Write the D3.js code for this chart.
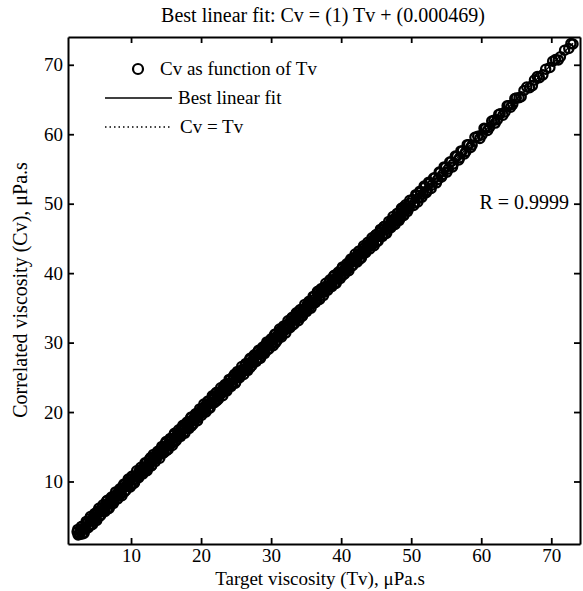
<!DOCTYPE html>
<html><head><meta charset="utf-8">
<script src="https://cdn.jsdelivr.net/npm/d3@7"></script>
<style>body{margin:0;background:#fff}svg text{font-family:"Liberation Serif","Times New Roman",serif;fill:#000}</style>
</head><body><svg id="c" width="583" height="591"></svg>
<script>
// Cv as function of Tv — dense part, strand A
const tvA = [2.3,2.6,2.9,3.2,3.5,3.8,4.1,4.4,4.7,5.0,5.3,5.6,5.9,6.2,6.5,6.8,7.1,7.4,7.7,8.0,8.3,8.6,8.9,9.2,9.5,9.8,10.1,10.4,10.7,11.0,11.3,11.6,11.9,12.2,12.5,12.8,13.1,13.4,13.7,14.0,14.3,14.6,14.9,15.2,15.5,15.8,16.1,16.4,16.7,17.0,17.3,17.6,17.9,18.2,18.5,18.8,19.1,19.4,19.7,20.0,20.3,20.6,20.9,21.2,21.5,21.8,22.1,22.4,22.7,23.0,23.3,23.6,23.9,24.2,24.5,24.8,25.1,25.4,25.7,26.0,26.3,26.6,26.9,27.2,27.5,27.8,28.1,28.4,28.7,29.0,29.3,29.6,29.9,30.2,30.5,30.8,31.1,31.4,31.7,32.0,32.3,32.6,32.9,33.2,33.5,33.8,34.1,34.4,34.7,35.0,35.3,35.6,35.9,36.2,36.5,36.8,37.1,37.4,37.7,38.0,38.3,38.6,38.9,39.2,39.5,39.8,40.1,40.4,40.7,41.0,41.3,41.6,41.9,42.2,42.5,42.8,43.1,43.4,43.7,44.0,44.3,44.6,44.9,45.2,45.5,45.8,46.1,46.4,46.7,47.0,47.3,47.6,47.9,48.2,48.5,48.8,49.1,49.4,49.7];
const cvA = [2.75,2.4,3.5,3.3,3.15,4.1,4.65,4.3,4.9,4.6,5.8,5.6,6.25,5.95,7.15,6.95,6.8,7.8,7.65,8.25,8.6,8.25,9.45,9.25,9.3,10.25,10.7,10.25,10.8,10.7,11.7,11.8,11.8,12.7,12.1,13.45,13.1,13.7,13.45,14.15,14.75,14.4,15.5,15.3,15.15,16.1,16.65,16.3,16.9,16.6,17.8,17.6,18.25,17.95,19.15,18.95,18.8,19.8,19.65,20.25,20.6,20.25,21.45,21.25,21.3,22.25,22.7,22.25,22.8,22.7,23.7,23.8,23.8,24.7,24.1,25.45,25.1,25.7,25.45,26.15,26.75,26.4,27.5,27.3,27.15,28.1,28.65,28.3,28.9,28.6,29.8,29.6,30.25,29.95,31.15,30.95,30.8,31.8,31.65,32.25,32.6,32.25,33.45,33.25,33.3,34.25,34.7,34.25,34.8,34.7,35.7,35.8,35.8,36.7,36.1,37.45,37.1,37.7,37.45,38.15,38.75,38.4,39.5,39.3,39.15,40.1,40.65,40.3,40.9,40.6,41.8,41.6,42.25,41.95,43.15,42.95,42.8,43.8,43.65,44.25,44.6,44.25,45.45,45.25,45.3,46.25,46.7,46.25,46.8,46.7,47.7,47.8,47.8,48.7,48.1,49.45,49.1,49.7,49.45];
// dense part, strand B
const tvB = [2.45,2.75,3.05,3.35,3.65,3.95,4.25,4.55,4.85,5.15,5.45,5.75,6.05,6.35,6.65,6.95,7.25,7.55,7.85,8.15,8.45,8.75,9.05,9.35,9.65,9.95,10.25,10.55,10.85,11.15,11.45,11.75,12.05,12.35,12.65,12.95,13.25,13.55,13.85,14.15,14.45,14.75,15.05,15.35,15.65,15.95,16.25,16.55,16.85,17.15,17.45,17.75,18.05,18.35,18.65,18.95,19.25,19.55,19.85,20.15,20.45,20.75,21.05,21.35,21.65,21.95,22.25,22.55,22.85,23.15,23.45,23.75,24.05,24.35,24.65,24.95,25.25,25.55,25.85,26.15,26.45,26.75,27.05,27.35,27.65,27.95,28.25,28.55,28.85,29.15,29.45,29.75,30.05,30.35,30.65,30.95,31.25,31.55,31.85,32.15,32.45,32.75,33.05,33.35,33.65,33.95,34.25,34.55,34.85,35.15,35.45,35.75,36.05,36.35,36.65,36.95,37.25,37.55,37.85,38.15,38.45,38.75,39.05,39.35,39.65,39.95,40.25,40.55,40.85,41.15,41.45,41.75,42.05,42.35,42.65,42.95,43.25,43.55,43.85,44.15,44.45,44.75,45.05,45.35,45.65,45.95,46.25,46.55,46.85,47.15,47.45,47.75,48.05,48.35,48.65,48.95,49.25,49.55,49.85];
const cvB = [2.3,2.95,2.45,3.25,4.0,3.65,3.7,4.65,4.65,5.55,4.95,5.75,5.7,6.6,6.0,6.8,7.55,7.15,7.9,7.9,8.15,9.1,8.5,9.3,9.85,9.5,9.65,10.7,10.75,11.45,11.05,11.55,12.15,11.85,13.05,12.3,13.25,13.25,14.1,14.0,14.0,14.95,14.45,15.25,16.0,15.65,15.7,16.65,16.65,17.55,16.95,17.75,17.7,18.6,18.0,18.8,19.55,19.15,19.9,19.9,20.15,21.1,20.5,21.3,21.85,21.5,21.65,22.7,22.75,23.45,23.05,23.55,24.15,23.85,25.05,24.3,25.25,25.25,26.1,26.0,26.0,26.95,26.45,27.25,28.0,27.65,27.7,28.65,28.65,29.55,28.95,29.75,29.7,30.6,30.0,30.8,31.55,31.15,31.9,31.9,32.15,33.1,32.5,33.3,33.85,33.5,33.65,34.7,34.75,35.45,35.05,35.55,36.15,35.85,37.05,36.3,37.25,37.25,38.1,38.0,38.0,38.95,38.45,39.25,40.0,39.65,39.7,40.65,40.65,41.55,40.95,41.75,41.7,42.6,42.0,42.8,43.55,43.15,43.9,43.9,44.15,45.1,44.5,45.3,45.85,45.5,45.65,46.7,46.75,47.45,47.05,47.55,48.15,47.85,49.05,48.3,49.25,49.25,50.1];
// dense part, outer strand D (widest scatter)
const tvD = [2.4,2.7,3.0,3.3,3.6,3.9,4.2,4.5,4.8,5.1,5.4,5.7,6.0,6.3,6.6,6.9,7.2,7.5,7.8,8.1,8.4,8.7,9.0,9.3,9.6,9.9,10.2,10.5,10.8,11.1,11.4,11.7,12.0,12.3,12.6,12.9,13.2,13.5,13.8,14.1,14.4,14.7,15.0,15.3,15.6,15.9,16.2,16.5,16.8,17.1,17.4,17.7,18.0,18.3,18.6,18.9,19.2,19.5,19.8,20.1,20.4,20.7,21.0,21.3,21.6,21.9,22.2,22.5,22.8,23.1,23.4,23.7,24.0,24.3,24.6,24.9,25.2,25.5,25.8,26.1,26.4,26.7,27.0,27.3,27.6,27.9,28.2,28.5,28.8,29.1,29.4,29.7,30.0,30.3,30.6,30.9,31.2,31.5,31.8,32.1,32.4,32.7,33.0,33.3,33.6,33.9,34.2,34.5,34.8,35.1,35.4,35.7,36.0,36.3,36.6,36.9,37.2,37.5,37.8,38.1,38.4,38.7,39.0,39.3,39.6,39.9,40.2,40.5,40.8,41.1,41.4,41.7,42.0,42.3,42.6,42.9,43.2,43.5,43.8,44.1,44.4,44.7,45.0,45.3,45.6,45.9,46.2,46.5,46.8,47.1,47.4,47.7,48.0,48.3,48.6,48.9,49.2,49.5,49.8];
const cvD = [3.1,2.4,3.55,2.55,4.25,3.35,4.95,3.8,5.4,4.4,6.15,5.15,6.65,5.7,7.3,6.15,7.75,6.85,8.5,7.5,8.95,7.95,9.65,8.75,10.35,9.2,10.8,9.8,11.55,10.55,12.05,11.1,12.7,11.55,13.15,12.25,13.9,12.9,14.35,13.35,15.05,14.15,15.75,14.6,16.2,15.2,16.95,15.95,17.45,16.5,18.1,16.95,18.55,17.65,19.3,18.3,19.75,18.75,20.45,19.55,21.15,20.0,21.6,20.6,22.35,21.35,22.85,21.9,23.5,22.35,23.95,23.05,24.7,23.7,25.15,24.15,25.85,24.95,26.55,25.4,27.0,26.0,27.75,26.75,28.25,27.3,28.9,27.75,29.35,28.45,30.1,29.1,30.55,29.55,31.25,30.35,31.95,30.8,32.4,31.4,33.15,32.15,33.65,32.7,34.3,33.15,34.75,33.85,35.5,34.5,35.95,34.95,36.65,35.75,37.35,36.2,37.8,36.8,38.55,37.55,39.05,38.1,39.7,38.55,40.15,39.25,40.9,39.9,41.35,40.35,42.05,41.15,42.75,41.6,43.2,42.2,43.95,42.95,44.45,43.5,45.1,43.95,45.55,44.65,46.3,45.3,46.75,45.75,47.45,46.55,48.15,47.0,48.6,47.6,49.35,48.35,49.85,48.9,50.5];
// upper, sparser part (two strands)
const tvU = [50.2,50.5,50.8,51.1,51.4,51.7,52.0,52.3,52.7,53.0,53.4,53.8,54.1,54.5,54.9,55.3,55.7,56.0,56.5,56.9,57.3,57.8,58.2,58.7,59.5,60.1,60.6,61.2,61.8,62.3,62.7,63.4,63.9,64.5,65.0,65.4,66.1,66.9,67.6,68.3,69.2,69.8,70.6,71.3,71.9,72.5,73.1];
const cvU = [50.6,50.1,51.2,50.8,51.7,51.4,52.4,51.9,53.0,52.7,53.75,53.5,54.45,54.2,55.2,55.0,56.05,55.7,56.8,56.6,57.6,57.5,58.5,58.45,59.7,59.9,60.8,61.0,62.0,62.1,62.95,63.2,64.1,64.3,65.2,65.25,66.3,66.7,67.8,68.15,69.35,69.6,70.75,71.15,72.1,72.35,73.0];
const tvU2 = [50.35,50.65,50.95,51.25,51.55,51.85,52.15,52.5,52.85,53.2,53.6,54.0,54.35,54.7,55.1,55.5,55.9,56.3,56.8,57.1,57.6,58.0,58.5,59.1,59.8,60.4,60.9,61.5,62.0,62.5,63.1,63.7,64.2,64.8,65.7,66.5,67.3,68.0,68.8,70.2,71.0,72.8];
const cvU2 = [49.75,51.3,50.25,51.8,50.95,52.55,51.6,53.1,52.2,53.7,53.0,54.55,53.85,55.3,54.55,56.0,55.3,56.85,56.3,57.6,57.15,58.5,58.1,59.55,59.4,60.85,60.55,61.9,61.6,62.85,62.75,64.1,63.9,65.15,65.4,66.8,67.0,68.3,68.55,70.5,70.7,73.05];
const xTicks = [10,20,30,40,50,60,70];
const yTicks = [10,20,30,40,50,60,70];
const fitSlope = 1, fitIntercept = 0.000469;
const rValue = "0.9999";
const legendLabels = ["Cv as function of Tv","Best linear fit","Cv = Tv"];

const svg = d3.select("#c");
const x = d3.scaleLinear().domain([1,74.1]).range([68,580]);
const y = d3.scaleLinear().domain([1,74]).range([544,37]);
const tvAll = tvA.concat(tvB, tvD, tvU, tvU2), cvAll = cvA.concat(cvB, cvD, cvU, cvU2);
const data = tvAll.map((t,i)=>({t, c: cvAll[i]}));

const ext = d3.extent(tvAll);
const line = d3.line().x(d=>x(d[0])).y(d=>y(d[1]));
svg.append("path").datum(ext.map(t=>[t,t])).attr("d",line)
  .attr("stroke","#000").attr("stroke-width",1.2).attr("stroke-dasharray","1,3").attr("fill","none");

svg.append("g").selectAll("circle").data(data).join("circle")
  .attr("cx",d=>x(d.t)).attr("cy",d=>y(d.c)).attr("r",4.6)
  .attr("fill","none").attr("stroke","#000").attr("stroke-width",2.3);

svg.append("path").datum(ext.map(t=>[t,fitSlope*t+fitIntercept])).attr("d",line)
  .attr("stroke","#000").attr("stroke-width",1.2).attr("fill","none");

const tl = 6;
const gB = svg.append("g").attr("transform","translate(0,544)")
  .call(d3.axisBottom(x).tickValues(xTicks).tickSizeInner(-tl).tickSizeOuter(0).tickPadding(5));
const gT = svg.append("g").attr("transform","translate(0,37)")
  .call(d3.axisTop(x).tickValues(xTicks).tickSizeInner(-tl).tickSizeOuter(0).tickFormat(""));
const gL = svg.append("g").attr("transform","translate(68,0)")
  .call(d3.axisLeft(y).tickValues(yTicks).tickSizeInner(-tl).tickSizeOuter(0).tickPadding(5));
const gR = svg.append("g").attr("transform","translate(580,0)")
  .call(d3.axisRight(y).tickValues(yTicks).tickSizeInner(-tl).tickSizeOuter(0).tickFormat(""));
[gB,gT,gL,gR].forEach(g=>{
  g.select(".domain").attr("stroke","#000").attr("stroke-width",2);
  g.selectAll(".tick line").attr("stroke","#000").attr("stroke-width",1.8);
  g.selectAll("text").attr("font-family","Liberation Serif").attr("font-size",19).attr("fill","#000");
});

svg.append("text").attr("x",323).attr("y",22).attr("text-anchor","middle").attr("font-size",20)
  .text(`Best linear fit: Cv = (${fitSlope}) Tv + (${fitIntercept})`);
svg.append("text").attr("x",320).attr("y",585).attr("text-anchor","middle").attr("font-size",19)
  .text("Target viscosity (Tv), μPa.s");
svg.append("text").attr("transform","translate(27,290) rotate(-90)").attr("text-anchor","middle").attr("font-size",20)
  .text("Correlated viscosity (Cv), μPa.s");
svg.append("text").attr("x",569).attr("y",209).attr("text-anchor","end").attr("font-size",20)
  .text("R = " + rValue);

const lg = svg.append("g");
lg.append("circle").attr("cx",138).attr("cy",69).attr("r",5).attr("fill","none").attr("stroke","#000").attr("stroke-width",2.2);
lg.append("line").attr("x1",105).attr("x2",172).attr("y1",98).attr("y2",98).attr("stroke","#000").attr("stroke-width",1.5);
lg.append("line").attr("x1",105).attr("x2",172).attr("y1",127).attr("y2",127).attr("stroke","#000").attr("stroke-width",1.5).attr("stroke-dasharray","1.5,3");
[[160,75],[178,104],[180,133]].forEach((p,i)=>{
  lg.append("text").attr("x",p[0]).attr("y",p[1]).attr("font-size",19).text(legendLabels[i]);
});
</script></body></html>
